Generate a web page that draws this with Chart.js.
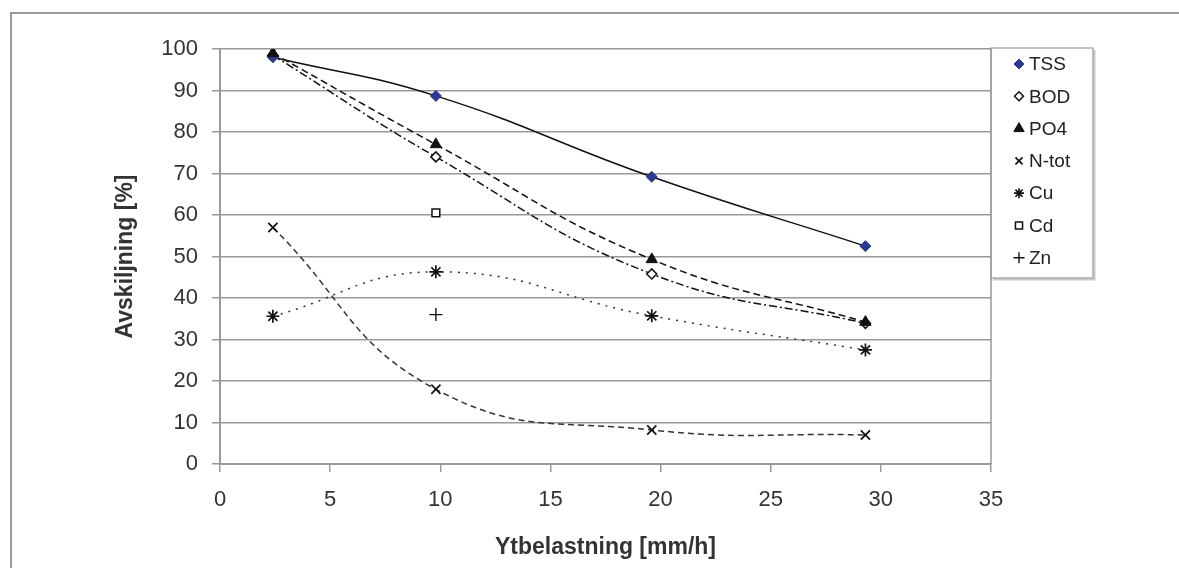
<!DOCTYPE html>
<html>
<head>
<meta charset="utf-8">
<script src="https://cdn.jsdelivr.net/npm/chart.js@4"></script>
<style>
  html, body { margin: 0; padding: 0; background: #fff; }
  #wrap { position: relative; width: 1179px; height: 568px; }
</style>
</head>
<body>
<div id="wrap"><canvas id="chart" width="1179" height="568"></canvas></div>
<script>
// values
const xLoad = [2.4, 9.8, 19.6, 29.3];
const tss = [98, 88.7, 69.2, 52.5];
const bod = [98.5, 74, 45.8, 33.9];
const po4 = [99, 77, 49.3, 34.2];
const ntot = [57, 18, 8.2, 7];
const cu = [35.6, 46.3, 35.7, 27.5];
const cd = [60.5];
const zn = [36];
const singleX = [9.8];
const yTicks = [0, 10, 20, 30, 40, 50, 60, 70, 80, 90, 100];
const xTicks = [0, 5, 10, 15, 20, 25, 30, 35];

function pts(xs, ys) {
    return ys.map((y, i) => ({ x: xs[i], y: y }));
}

const font = 'Liberation Sans, Arial, sans-serif';

const frame = {
    id: 'frame',
    beforeDraw(chart) {
        const ctx = chart.ctx;
        ctx.save();
        ctx.strokeStyle = '#9a9a9a';
        ctx.lineWidth = 2;
        ctx.beginPath();
        ctx.moveTo(11, 568);
        ctx.lineTo(11, 13);
        ctx.lineTo(1179, 13);
        ctx.stroke();
        ctx.restore();
    },
    afterDraw(chart) {
        const ctx = chart.ctx;
        const a = chart.chartArea;
        ctx.save();
        // right border of plot area
        ctx.strokeStyle = '#999';
        ctx.lineWidth = 1.5;
        ctx.beginPath();
        ctx.moveTo(a.right, a.top);
        ctx.lineTo(a.right, a.bottom);
        ctx.stroke();

        // legend box
        const lx = 991, ly = 48, lw = 102, lh = 230;
        ctx.strokeStyle = '#c8c8c8';
        ctx.lineWidth = 2;
        ctx.beginPath();
        ctx.moveTo(lx + lw + 1.5, ly + 2);
        ctx.lineTo(lx + lw + 1.5, ly + lh + 1.5);
        ctx.lineTo(lx + 2, ly + lh + 1.5);
        ctx.stroke();
        ctx.strokeStyle = '#999';
        ctx.lineWidth = 1.2;
        ctx.strokeRect(lx, ly, lw, lh);

        ctx.font = '19px ' + font;
        ctx.textBaseline = 'middle';
        ctx.textAlign = 'left';
        chart.data.datasets.forEach((ds, i) => {
            const y = 64 + i * 32.3;
            ctx.fillStyle = ds.pointBackgroundColor;
            ctx.strokeStyle = ds.pointBorderColor;
            ctx.lineWidth = ds.pointBorderWidth;
            Chart.helpers.drawPoint(ctx, {
                pointStyle: ds.pointStyle,
                radius: ds.legendRadius,
                rotation: 0,
                borderWidth: ds.pointBorderWidth
            }, 1019, y);
            ctx.fillStyle = '#222';
            ctx.fillText(ds.label, 1029, y + 1);
        });
        ctx.restore();
    }
};

const lineBase = { borderColor: '#111', borderWidth: 1.5, tension: 0.45, fill: false };

new Chart(document.getElementById('chart'), {
    type: 'line',
    data: {
        datasets: [
            Object.assign({}, lineBase, {
                label: 'TSS', data: pts(xLoad, tss),
                pointStyle: 'rectRot', pointRadius: 5.5, legendRadius: 5,
                pointBackgroundColor: '#2b3a8f', pointBorderColor: '#2b3a8f', pointBorderWidth: 1
            }),
            Object.assign({}, lineBase, {
                label: 'BOD', data: pts(xLoad, bod), borderDash: [8, 3, 2, 3],
                pointStyle: 'rectRot', pointRadius: 5, legendRadius: 4.5,
                pointBackgroundColor: '#fff', pointBorderColor: '#111', pointBorderWidth: 1.5
            }),
            Object.assign({}, lineBase, {
                label: 'PO4', data: pts(xLoad, po4), borderDash: [7, 4], order: -1,
                pointStyle: 'triangle', pointRadius: 6.5, legendRadius: 6,
                pointBackgroundColor: '#111', pointBorderColor: '#111', pointBorderWidth: 1
            }),
            Object.assign({}, lineBase, {
                label: 'N-tot', data: pts(xLoad, ntot), borderDash: [6, 4], borderColor: '#333',
                pointStyle: 'crossRot', pointRadius: 6.5, legendRadius: 5,
                pointBackgroundColor: '#111', pointBorderColor: '#111', pointBorderWidth: 1.7
            }),
            Object.assign({}, lineBase, {
                label: 'Cu', data: pts(xLoad, cu), borderDash: [2, 6], borderColor: '#333',
                pointStyle: 'star', pointRadius: 6.5, legendRadius: 5,
                pointBackgroundColor: '#111', pointBorderColor: '#111', pointBorderWidth: 1.7
            }),
            Object.assign({}, lineBase, {
                label: 'Cd', data: pts(singleX, cd), showLine: false,
                pointStyle: 'rect', pointRadius: 5.5, legendRadius: 5,
                pointBackgroundColor: '#fff', pointBorderColor: '#111', pointBorderWidth: 1.5
            }),
            Object.assign({}, lineBase, {
                label: 'Zn', data: pts(singleX, zn), showLine: false,
                pointStyle: 'cross', pointRadius: 6.5, legendRadius: 5.5,
                pointBackgroundColor: '#111', pointBorderColor: '#111', pointBorderWidth: 1.4
            })
        ]
    },
    options: {
        responsive: false,
        animation: false,
        layout: { padding: { top: 49, right: 188, left: 0, bottom: 0 } },
        plugins: {
            legend: { display: false },
            tooltip: { enabled: false }
        },
        scales: {
            x: {
                type: 'linear',
                min: 0,
                max: 35,
                afterBuildTicks: s => { s.ticks = xTicks.map(v => ({ value: v })); },
                afterFit: s => { s.height = 104; },
                grid: { drawOnChartArea: false, color: '#999', lineWidth: 1.5, tickLength: 8 },
                border: { color: '#999', width: 2 },
                ticks: { color: '#333', font: { family: font, size: 22 }, padding: 15, maxRotation: 0 },
                title: {
                    display: true, text: 'Ytbelastning [mm/h]', color: '#333',
                    font: { family: font, size: 23, weight: 'bold' },
                    padding: { top: 7, bottom: 7 }
                }
            },
            y: {
                min: 0,
                max: 100,
                afterBuildTicks: s => { s.ticks = yTicks.map(v => ({ value: v })); },
                afterFit: s => { s.width = 220; },
                grid: { color: '#999', lineWidth: 1.5, tickLength: 8 },
                border: { color: '#999', width: 2 },
                ticks: { color: '#333', font: { family: font, size: 22 }, padding: 14 },
                title: {
                    display: true, text: 'Avskiljning [%]', color: '#333',
                    font: { family: font, size: 23, weight: 'bold' },
                    padding: { top: 112, bottom: 112 }
                }
            }
        }
    },
    plugins: [frame]
});
</script>
</body>
</html>
